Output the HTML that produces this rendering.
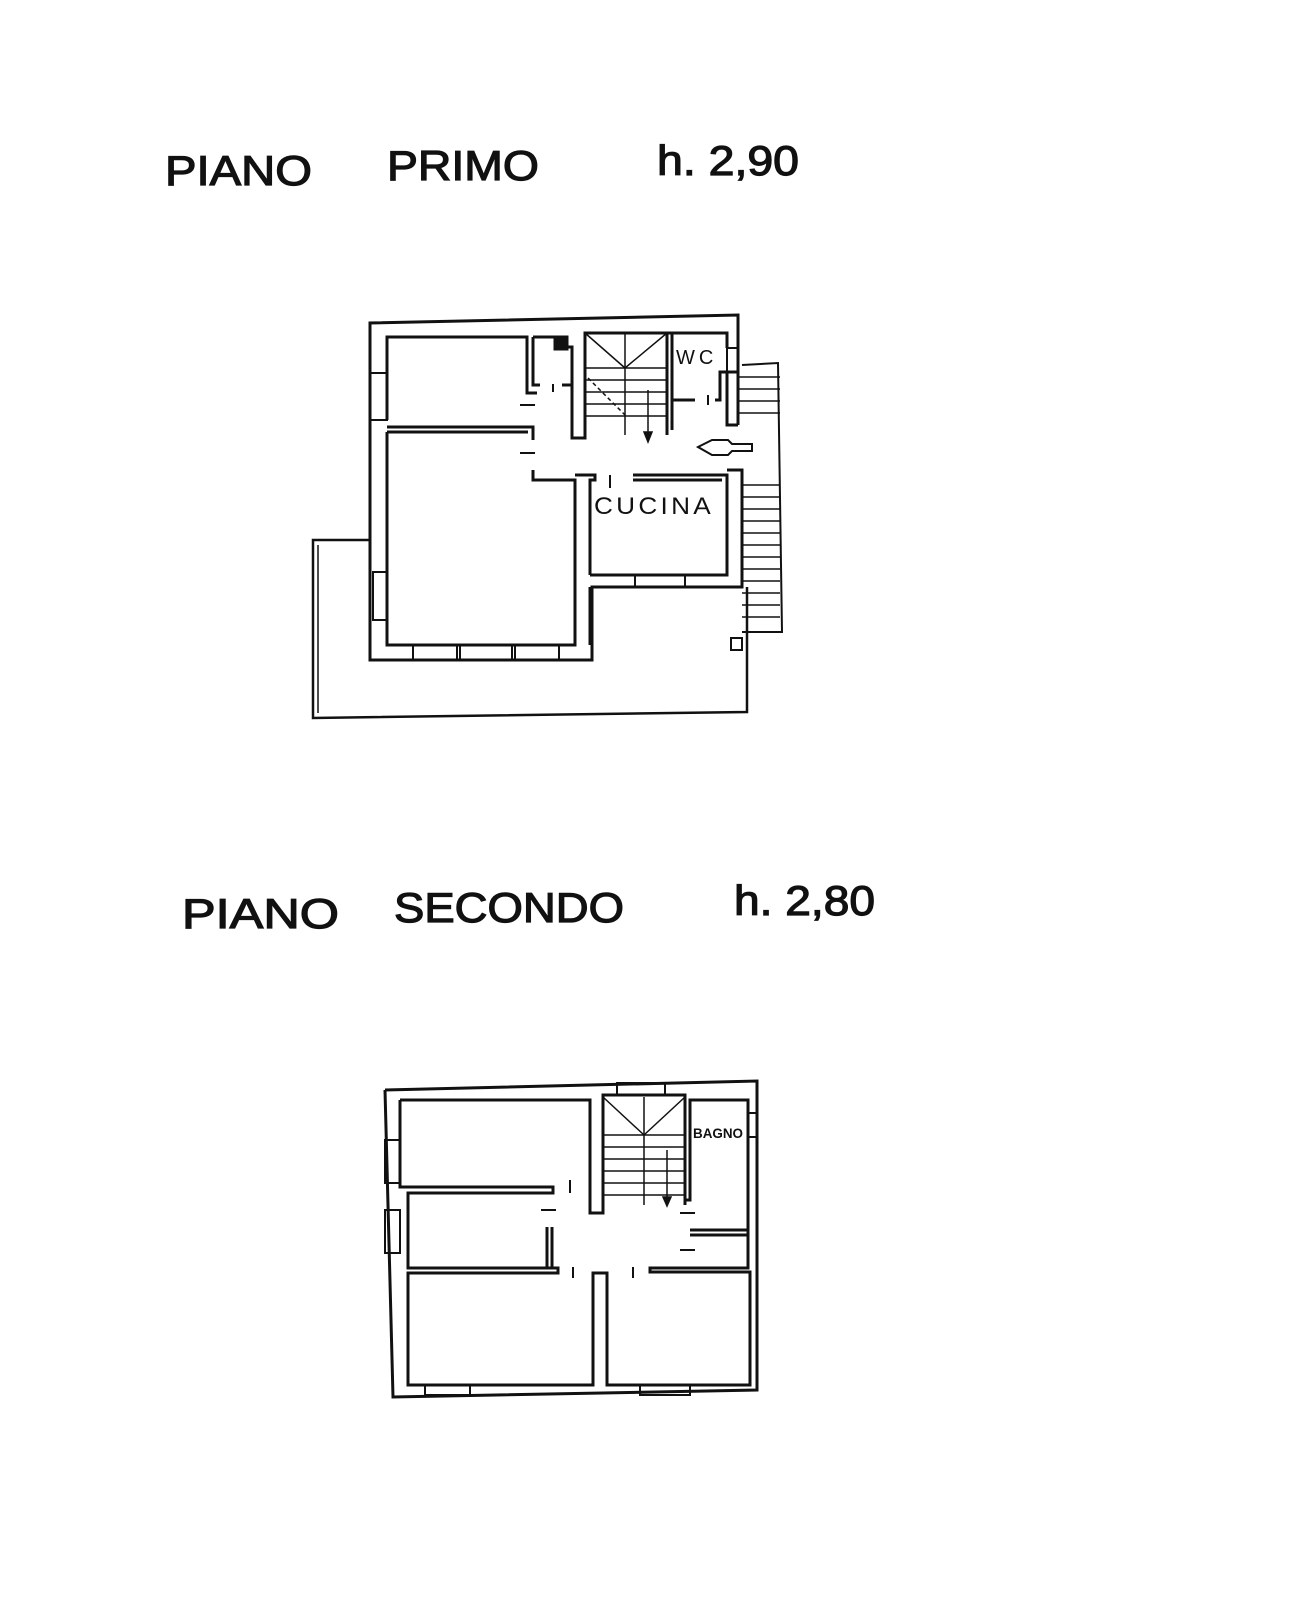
<!DOCTYPE html>
<html><head><meta charset="utf-8"><style>
html,body{margin:0;padding:0;background:#fff}
svg{display:block}
text{font-family:"Liberation Sans",sans-serif;fill:#111}
</style></head><body>
<svg width="1297" height="1600" viewBox="0 0 1297 1600" xmlns="http://www.w3.org/2000/svg">
<rect width="1297" height="1600" fill="#fff"/>
<!-- titles -->
<g font-size="42" stroke="#111" stroke-width="1.2">
<text x="165" y="185" textLength="147" lengthAdjust="spacingAndGlyphs">PIANO</text>
<text x="387" y="180" textLength="152" lengthAdjust="spacingAndGlyphs">PRIMO</text>
<text x="657" y="175" textLength="142" lengthAdjust="spacingAndGlyphs">h. 2,90</text>
<text x="182" y="928" textLength="157" lengthAdjust="spacingAndGlyphs">PIANO</text>
<text x="394" y="922" textLength="230" lengthAdjust="spacingAndGlyphs">SECONDO</text>
<text x="734" y="915" textLength="141" lengthAdjust="spacingAndGlyphs">h. 2,80</text>
</g>

<g fill="none" stroke="#111" stroke-width="3" stroke-linejoin="miter">
<!-- PLAN 1 -->
<polyline points="370,540 313,540 313,718 747,712 747,587" stroke-width="2.5"/>
<polyline points="318,545 318,713" stroke-width="1.5"/>
<polyline points="738,425 738,315 370,323 370,660 592,660 592,587 742,587 742,470 727,470"/>
<polyline points="387,420 387,337 527,337 527,393 537,393"/>
<polyline points="387,427 533,427 533,440"/>
<polyline points="387,432 528,432"/>
<polyline points="387,432 387,645 575,645 575,480 533,480 533,470"/>
<polyline points="590,645 590,587"/>
<polyline points="590,575 590,480 595,480 595,475 575,475"/>
<polyline points="633,475 727,475 727,575 590,575"/>
<polyline points="633,480 722,480"/>
<polyline points="533,337 567,337 567,347 572,347 572,438 585,438 585,333 667,333 667,435"/>
<polyline points="533,337 533,385 540,385"/>
<polyline points="562,385 572,385"/>
<path d="M555,337 h12 v12 h-12z" fill="#111"/>
<polyline points="667,333 727,333 727,348"/>
<polyline points="672,400 695,400"/>
<polyline points="672,333 672,430"/>
<polyline points="727,372 727,425 738,425"/>
<polyline points="715,400 720,400 720,372 738,372"/>
<rect x="370" y="373" width="17" height="47" stroke-width="2"/>
<rect x="373" y="572" width="14" height="48" stroke-width="2"/>
<rect x="727" y="348" width="11" height="24" stroke-width="2"/>
<rect x="413" y="645" width="44" height="15" stroke-width="2"/>
<rect x="460" y="645" width="52" height="15" stroke-width="2"/>
<rect x="515" y="645" width="44" height="15" stroke-width="2"/>
<rect x="635" y="575" width="50" height="12" stroke-width="2"/>
<g stroke-width="1.5">
<line x1="585" y1="333" x2="625" y2="368"/><line x1="667" y1="333" x2="625" y2="368"/>
<line x1="625" y1="333" x2="625" y2="435"/>
<line x1="585" y1="368" x2="667" y2="368"/>
<line x1="585" y1="380" x2="667" y2="380"/><line x1="585" y1="392" x2="667" y2="392"/>
<line x1="585" y1="404" x2="667" y2="404"/><line x1="585" y1="416" x2="667" y2="416"/>
<line x1="588" y1="378" x2="625" y2="415" stroke-dasharray="4,3"/>
<line x1="648" y1="390" x2="648" y2="440"/>
<path d="M644,432 L648,442 L652,432z" fill="#111"/>
</g>
<g stroke-width="2">
<line x1="520" y1="405" x2="535" y2="405"/><line x1="520" y1="453" x2="535" y2="453"/>
<line x1="553" y1="384" x2="553" y2="392"/><line x1="610" y1="475" x2="610" y2="488"/>
<line x1="708" y1="395" x2="708" y2="405"/>
</g>
<path d="M698,447 L712,440 L728,440 L732,444 L752,444 L752,451 L732,451 L728,455 L712,455z" stroke-width="2"/>
<polyline points="742,365 778,363 782,632 742,632" stroke-width="2"/>
<g stroke-width="1.5">
<line x1="738" y1="377" x2="780" y2="377"/><line x1="738" y1="389" x2="780" y2="389"/>
<line x1="738" y1="401" x2="780" y2="401"/><line x1="738" y1="413" x2="780" y2="413"/>
<line x1="742" y1="485" x2="780" y2="485"/><line x1="742" y1="497" x2="780" y2="497"/>
<line x1="742" y1="509" x2="780" y2="509"/><line x1="742" y1="521" x2="780" y2="521"/>
<line x1="742" y1="533" x2="780" y2="533"/><line x1="742" y1="545" x2="780" y2="545"/>
<line x1="742" y1="557" x2="780" y2="557"/><line x1="742" y1="569" x2="780" y2="569"/>
<line x1="742" y1="581" x2="780" y2="581"/><line x1="742" y1="593" x2="780" y2="593"/>
<line x1="742" y1="605" x2="780" y2="605"/><line x1="742" y1="617" x2="780" y2="617"/>
</g>
<rect x="731" y="638" width="11" height="12" stroke-width="2"/>

<!-- PLAN 2 -->
<polyline points="385,1090 757,1081 757,1390 393,1397 385,1090"/>
<polyline points="400,1100 590,1100 590,1213 603,1213 603,1095 685,1095 685,1205"/>
<polyline points="400,1100 400,1187 553,1187 553,1193 408,1193 408,1268 558,1268 558,1273 408,1273 408,1385 593,1385 593,1273 607,1273 607,1385 750,1385 750,1272 650,1272 650,1268 748,1268 748,1100 690,1100 690,1200 685,1200"/>
<polyline points="690,1230 748,1230"/><polyline points="690,1235 748,1235"/>
<polyline points="547,1227 547,1268"/><polyline points="552,1227 552,1268"/>
<rect x="617" y="1083" width="48" height="12" stroke-width="2"/>
<rect x="385" y="1140" width="15" height="43" stroke-width="2"/>
<rect x="385" y="1210" width="15" height="43" stroke-width="2"/>
<rect x="748" y="1113" width="9" height="24" stroke-width="2"/>
<rect x="425" y="1385" width="45" height="10" stroke-width="2"/>
<rect x="640" y="1385" width="50" height="10" stroke-width="2"/>
<g stroke-width="1.5">
<line x1="603" y1="1097" x2="644" y2="1135"/><line x1="685" y1="1097" x2="644" y2="1135"/>
<line x1="644" y1="1097" x2="644" y2="1205"/>
<line x1="603" y1="1135" x2="685" y2="1135"/><line x1="603" y1="1147" x2="685" y2="1147"/>
<line x1="603" y1="1159" x2="685" y2="1159"/><line x1="603" y1="1171" x2="685" y2="1171"/>
<line x1="603" y1="1183" x2="685" y2="1183"/><line x1="603" y1="1195" x2="685" y2="1195"/>
<line x1="667" y1="1150" x2="667" y2="1205"/>
<path d="M663,1197 L667,1206 L671,1197z" fill="#111"/>
</g>
<g stroke-width="2">
<line x1="570" y1="1180" x2="570" y2="1193"/><line x1="541" y1="1210" x2="556" y2="1210"/>
<line x1="573" y1="1267" x2="573" y2="1278"/><line x1="633" y1="1267" x2="633" y2="1278"/>
<line x1="680" y1="1213" x2="695" y2="1213"/><line x1="680" y1="1250" x2="695" y2="1250"/>
</g>
</g>
<text x="594" y="514" font-size="24" letter-spacing="3" textLength="120" lengthAdjust="spacingAndGlyphs">CUCINA</text>
<text x="676" y="364" font-size="20" letter-spacing="4">WC</text>
<text x="693" y="1138" font-size="14" font-weight="bold" textLength="50" lengthAdjust="spacingAndGlyphs">BAGNO</text>
</svg>
</body></html>
